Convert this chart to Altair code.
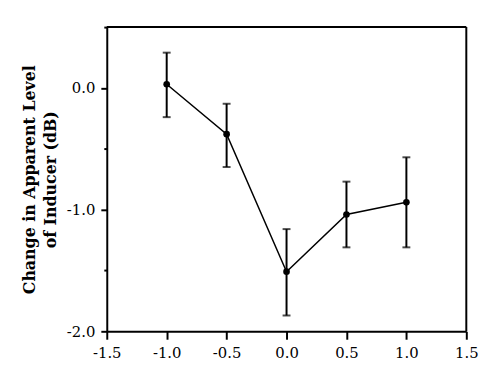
import altair as alt
import pandas as pd

x_vals = [-1.0, -0.5, 0.0, 0.5, 1.0]
y_vals = [0.03, -0.38, -1.51, -1.04, -0.94]
y_hi = [0.29, -0.13, -1.16, -0.77, -0.57]
y_lo = [-0.24, -0.65, -1.87, -1.31, -1.31]

x_ticks = [-1.5, -1.25, -1.0, -0.75, -0.5, -0.25, 0.0, 0.25, 0.5, 0.75, 1.0, 1.25, 1.5]
y_ticks = [-2.0, -1.5, -1.0, -0.5, 0.0, 0.5]

# frame segments (top and right border of the plot box)
frame_x = [-1.5, 1.5]
frame_x2 = [1.5, 1.5]
frame_y = [0.5, -2.0]
frame_y2 = [0.5, 0.5]

df = pd.DataFrame({"x": x_vals, "y": y_vals, "hi": y_hi, "lo": y_lo})
fdf = pd.DataFrame({"x": frame_x, "x2": frame_x2, "y": frame_y, "y2": frame_y2})

FONT = "DejaVu Serif"
W, H = 364, 308

xscale = alt.Scale(domain=[-1.5, 1.5], nice=False, zero=False)
yscale = alt.Scale(domain=[-2.0, 0.5], nice=False, zero=False)

xmajor = "abs(datum.value*2 - round(datum.value*2)) < 0.01"
ymajor = "abs(datum.value - round(datum.value)) < 0.01 && datum.value < 0.4"

xaxis = alt.Axis(
    values=x_ticks,
    title=None,
    grid=False,
    labelExpr=f"{xmajor} ? replace(format(datum.value, '.1f'), '\u2212', '-') : ''",
    tickSize={"condition": {"test": xmajor, "value": 8}, "value": 3},
    tickWidth=2,
    tickColor="black",
    domainColor="black",
    domainWidth=2,
    labelFont=FONT,
    labelFontSize=15,
    labelColor="black",
    labelPadding=7,
    labelFlush=False,
)

yaxis = alt.Axis(
    values=y_ticks,
    title=["Change in Apparent Level", "of Inducer (dB)"],
    grid=False,
    labelExpr=f"{ymajor} ? replace(format(datum.value, '.1f'), '\u2212', '-') : ''",
    tickSize={"condition": {"test": ymajor, "value": 6}, "value": 3},
    tickWidth=2,
    tickColor="black",
    domainColor="black",
    domainWidth=2,
    labelFont=FONT,
    labelFontSize=15,
    labelColor="black",
    labelPadding=6,
    labelFlush=False,
    titleFont=FONT,
    titleFontSize=16,
    titleFontWeight="bold",
    titleColor="black",
    titlePadding=8,
    titleLineHeight=21,
)

base = alt.Chart(df)

line = base.mark_line(color="black", strokeWidth=1.5).encode(
    x=alt.X("x:Q", scale=xscale, axis=xaxis),
    y=alt.Y("y:Q", scale=yscale, axis=yaxis),
)

frame = alt.Chart(fdf).mark_rule(color="black", strokeWidth=2).encode(
    x="x:Q", x2="x2:Q", y="y:Q", y2="y2:Q"
)

err = base.mark_rule(color="black", strokeWidth=2).encode(
    x="x:Q", y="lo:Q", y2="hi:Q"
)

cap_hi = base.mark_tick(color="black", thickness=2, size=8, orient="horizontal").encode(
    x="x:Q", y="hi:Q"
)
cap_lo = base.mark_tick(color="black", thickness=2, size=8, orient="horizontal").encode(
    x="x:Q", y="lo:Q"
)

pts = base.mark_circle(color="black", opacity=1, size=45).encode(
    x="x:Q", y="y:Q"
)

chart = alt.layer(line, frame, err, cap_hi, cap_lo, pts).properties(
    width=W,
    height=H,
    autosize=alt.AutoSizeParams(type="none"),
    padding={"left": 100, "top": 17, "right": 25, "bottom": 50},
    background="white",
).configure_view(stroke=None)

chart.save("out.html", embed_options={"renderer": "svg", "actions": False})
